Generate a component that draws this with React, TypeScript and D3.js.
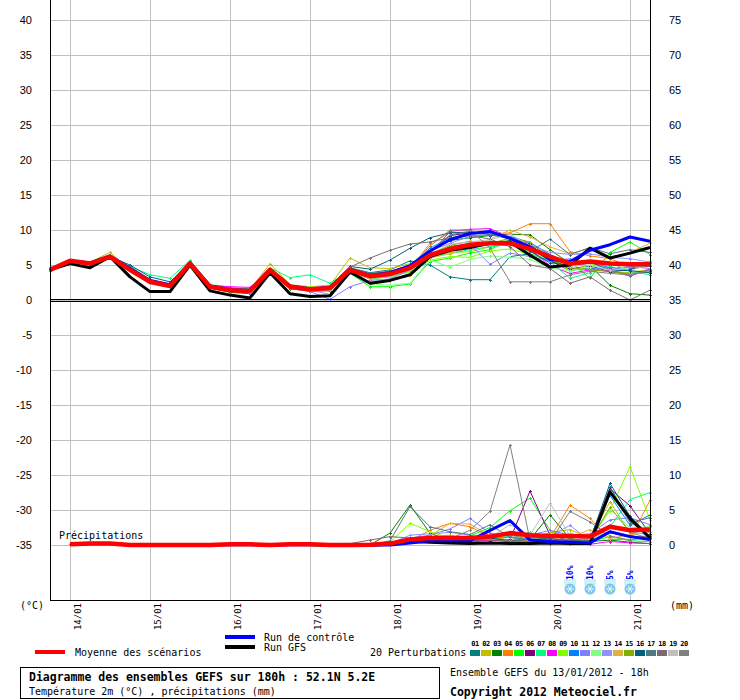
import * as d3 from "d3";

// forecast steps (hours after 13/01/2012 18h)
const HOURS = [0, 6, 12, 18, 24, 30, 36, 42, 48, 54, 60, 66, 72, 78, 84, 90, 96, 102, 108, 114, 120, 126, 132, 138, 144, 150, 156, 162, 168, 174, 180];
const DAY_HOURS = [6, 30, 54, 78, 102, 126, 150, 174];
const DAY_LABELS = ["14/01", "15/01", "16/01", "17/01", "18/01", "19/01", "20/01", "21/01"];
const TEMP_TICKS = [40, 35, 30, 25, 20, 15, 10, 5, 0, -5, -10, -15, -20, -25, -30, -35];
const PRECIP_TICKS = [75, 70, 65, 60, 55, 50, 45, 40, 35, 30, 25, 20, 15, 10, 5, 0];

const MEMBER_COLORS = ["#008080", "#c0c000", "#008000", "#ff8000", "#00ff00", "#800080", "#00ff80", "#ff00ff", "#80ff00", "#0080ff",
  "#8080ff", "#80ff80", "#9090ff", "#e0b040", "#80b000", "#006080", "#507880", "#806870", "#c0c0c0", "#808080"];

// 2m temperature, one value per step
const TEMP_MEAN = [4.3, 5.6, 5.2, 6.2, 4.3, 2.6, 2.0, 5.2, 1.9, 1.4, 1.3, 4.3, 1.9, 1.5, 1.7, 4.3, 3.4, 3.7, 4.6, 6.4, 7.3, 7.9, 8.1, 8.1, 7.3, 6.2, 5.2, 5.5, 5.2, 5.1, 5.1];
const TEMP_GFS = [4.3, 5.2, 4.6, 6.2, 3.3, 1.2, 1.2, 5.0, 1.3, 0.7, 0.3, 3.9, 0.9, 0.5, 0.6, 4.0, 2.4, 2.8, 3.6, 6.2, 7.1, 7.5, 8.1, 8.3, 6.4, 4.7, 5.0, 7.4, 6.0, 6.7, 7.5];
const TEMP_CTRL = [4.3, 5.6, 5.3, 6.3, 4.5, 2.8, 2.2, 5.3, 2.0, 1.5, 1.4, 4.4, 2.0, 1.6, 1.8, 4.4, 3.5, 3.9, 4.9, 7.0, 8.6, 9.5, 9.8, 8.8, 7.6, 5.8, 5.5, 7.1, 7.9, 9.0, 8.4];
const TEMP_MEMBERS = [
  [4.4, 5.6, 5.3, 6.0, 4.6, 2.9, 2.2, 5.0, 1.8, 1.3, 1.1, 4.0, 1.8, 1.6, 1.9, 4.6, 3.9, 4.3, 5.6, 5.0, 3.3, 2.9, 2.9, 6.2, 6.6, 5.6, 4.2, 4.6, 4.0, 3.8, 4.2],
  [4.2, 5.7, 5.4, 6.8, 4.4, 2.5, 1.9, 5.1, 2.1, 1.6, 1.5, 5.2, 2.2, 1.9, 2.1, 6.0, 4.6, 4.5, 5.2, 6.2, 6.8, 6.9, 7.6, 8.4, 8.0, 6.4, 4.6, 4.3, 4.1, 3.9, 4.4],
  [4.3, 5.5, 5.2, 6.2, 4.4, 2.7, 2.1, 5.1, 1.7, 1.1, 0.9, 4.2, 1.6, 1.3, 1.3, 4.5, 3.7, 4.1, 4.9, 6.9, 8.5, 8.9, 9.2, 9.4, 9.3, 7.2, 5.2, 4.9, 2.1, 0.9, 0.7],
  [4.4, 5.6, 5.1, 6.1, 4.2, 2.4, 1.9, 5.4, 2.0, 1.5, 1.3, 4.4, 1.9, 1.4, 1.6, 4.0, 3.2, 3.5, 4.4, 8.1, 9.6, 9.6, 9.4, 9.6, 10.9, 10.9, 6.9, 6.3, 5.9, 4.7, 5.3],
  [4.2, 5.5, 5.1, 6.3, 4.3, 2.6, 2.0, 5.6, 1.8, 1.3, 1.2, 4.1, 2.0, 1.6, 1.6, 3.8, 1.9, 1.9, 2.3, 5.5, 6.0, 6.7, 7.2, 8.6, 7.8, 5.4, 5.5, 3.1, 6.8, 8.3, 6.5],
  [4.3, 5.6, 5.2, 6.1, 4.2, 2.6, 2.0, 5.2, 1.9, 1.5, 1.4, 4.3, 1.8, 1.6, 1.8, 4.4, 3.6, 3.8, 4.9, 6.8, 9.2, 9.6, 9.5, 9.0, 8.0, 5.6, 4.4, 4.9, 4.0, 4.4, 4.9],
  [4.3, 5.6, 5.3, 6.4, 4.8, 3.6, 3.1, 5.7, 2.2, 1.8, 1.6, 4.6, 3.2, 3.6, 2.4, 4.2, 3.0, 3.3, 4.1, 6.3, 6.6, 7.2, 7.6, 7.9, 6.9, 5.5, 3.1, 3.9, 4.8, 4.1, 3.6],
  [4.3, 5.6, 5.2, 6.1, 4.3, 2.7, 2.1, 5.1, 2.1, 1.9, 1.8, 4.2, 1.9, 1.5, 1.8, 4.3, 3.5, 3.9, 4.8, 6.6, 9.8, 10.1, 10.2, 9.0, 7.3, 4.9, 3.8, 4.3, 4.2, 3.4, 4.4],
  [4.2, 5.5, 5.2, 6.2, 4.3, 2.7, 2.0, 5.3, 1.8, 1.2, 1.1, 4.5, 2.1, 1.8, 1.7, 4.2, 3.1, 3.3, 4.0, 5.7, 6.2, 6.1, 7.0, 7.3, 6.5, 5.9, 4.2, 5.0, 5.3, 4.8, 5.6],
  [4.3, 5.6, 5.2, 6.2, 4.4, 2.6, 1.9, 5.0, 1.9, 1.4, 1.3, 4.2, 1.8, 1.4, 1.7, 4.3, 3.6, 3.9, 4.8, 7.4, 8.9, 9.2, 9.3, 9.1, 8.2, 6.5, 5.0, 5.4, 4.6, 4.6, 4.9],
  [4.1, 5.4, 5.0, 6.0, 4.1, 2.4, 1.8, 4.8, 1.8, 1.3, 1.0, 4.0, 1.7, 1.2, 0.1, 1.9, 2.8, 3.0, 4.3, 6.1, 7.7, 8.0, 5.1, 6.7, 6.2, 5.6, 5.9, 4.6, 4.4, 4.8, 4.5],
  [4.3, 5.6, 5.2, 6.2, 4.3, 2.5, 2.0, 5.2, 2.0, 1.5, 1.4, 4.3, 2.0, 1.7, 1.5, 4.4, 2.3, 2.1, 2.4, 5.7, 4.7, 5.8, 6.3, 6.1, 5.8, 4.6, 4.2, 4.7, 5.3, 4.2, 5.1],
  [4.3, 5.6, 5.2, 6.2, 4.4, 2.6, 2.1, 5.2, 1.9, 1.4, 1.4, 4.3, 2.0, 1.4, 0.8, 3.8, 3.1, 3.5, 4.3, 7.0, 8.1, 9.1, 9.5, 9.0, 7.8, 6.8, 6.5, 6.6, 6.1, 5.9, 5.4],
  [4.3, 5.6, 5.2, 6.1, 4.3, 2.5, 2.0, 5.1, 2.0, 1.5, 1.4, 4.4, 2.0, 1.6, 1.9, 4.2, 3.0, 2.9, 3.6, 6.0, 6.6, 7.5, 8.7, 10.0, 9.0, 7.6, 6.6, 7.4, 6.0, 6.8, 8.1],
  [4.3, 5.6, 5.2, 6.3, 4.4, 2.6, 2.0, 5.3, 1.9, 1.4, 1.3, 4.4, 1.9, 1.5, 1.8, 4.6, 3.7, 3.9, 4.7, 6.6, 7.8, 8.4, 8.1, 8.8, 8.3, 5.8, 4.6, 4.3, 4.1, 3.7, 4.0],
  [4.4, 5.7, 5.4, 6.2, 5.0, 3.3, 2.6, 5.1, 1.7, 1.2, 1.1, 4.1, 2.1, 1.6, 2.0, 4.8, 4.4, 5.7, 7.4, 8.9, 9.6, 9.7, 9.4, 8.7, 7.0, 5.3, 5.2, 5.4, 4.3, 4.2, 3.9],
  [4.4, 5.6, 5.3, 6.2, 4.8, 2.9, 2.2, 5.0, 1.8, 1.3, 1.2, 4.2, 2.0, 1.7, 1.9, 4.5, 3.8, 4.1, 4.9, 6.9, 9.3, 9.8, 9.4, 8.8, 6.9, 8.7, 6.5, 7.5, 6.6, 7.2, 6.8],
  [4.3, 5.6, 5.2, 6.3, 4.5, 2.8, 2.2, 5.1, 1.9, 1.4, 1.3, 4.3, 2.0, 1.6, 1.7, 4.7, 6.0, 7.1, 8.0, 8.3, 8.9, 9.2, 8.7, 7.6, 5.0, 4.5, 2.4, 3.3, 1.4, 0.0, 1.4],
  [4.3, 5.6, 5.1, 6.1, 4.2, 2.3, 1.8, 5.0, 1.8, 1.3, 1.2, 4.2, 1.8, 1.3, 1.5, 4.1, 3.3, 3.5, 4.4, 6.5, 8.0, 8.3, 8.6, 9.4, 7.8, 6.0, 4.8, 5.0, 4.3, 5.4, 5.0],
  [4.3, 5.6, 5.2, 6.2, 4.4, 2.6, 2.0, 5.2, 1.9, 1.4, 1.3, 4.3, 1.9, 1.5, 1.7, 4.3, 3.5, 3.8, 4.7, 7.7, 10.0, 10.0, 7.4, 2.6, 2.6, 2.6, 3.6, 4.1, 3.8, 3.6, 4.3],
];

// 6h precipitation (mm), from step 6h onwards
const PRECIP_MEAN = [0.1, 0.2, 0.2, 0, 0, 0, 0, 0, 0.1, 0.1, 0, 0.1, 0.1, 0, 0, 0.05, 0.2, 0.8, 1.0, 1.0, 1.0, 1.2, 1.7, 1.4, 1.3, 1.3, 1.2, 2.6, 2.1, 2.2];
const PRECIP_GFS = [0.1, 0.2, 0.2, 0, 0, 0, 0, 0, 0.1, 0.1, 0, 0.1, 0.1, 0, 0, 0, 0.1, 0.5, 0.4, 0.3, 0.2, 0.3, 0.2, 0.2, 0.3, 0.2, 0.2, 7.6, 3.8, 1.0];
const PRECIP_CTRL = [0.1, 0.2, 0.2, 0, 0, 0, 0, 0, 0.05, 0.05, 0, 0.05, 0.05, 0, 0, 0, 0, 0.3, 0.6, 0.6, 0.6, 2.1, 3.5, 0.7, 0.5, 0.4, 0.3, 1.9, 1.2, 0.8];
const PRECIP_MEMBERS = [
  [0.1, 0.2, 0.2, 0, 0, 0, 0, 0, 0.1, 0.1, 0, 0.1, 0.1, 0, 0, 0, 0.2, 0.6, 1.0, 0.9, 0.8, 0.9, 1.1, 0.7, 0.5, 0.4, 0.3, 8.3, 3.4, 1.0],
  [0.1, 0.3, 0.2, 0, 0, 0, 0, 0, 0.1, 0.1, 0, 0.1, 0.1, 0, 0, 0, 0.3, 0.9, 1.2, 1.4, 0.9, 1.0, 0.6, 0.9, 1.8, 2.2, 1.0, 6.2, 1.7, 2.7],
  [0.1, 0.2, 0.1, 0, 0, 0, 0, 0, 0.1, 0.1, 0, 0.1, 0.1, 0, 0, 0, 1.7, 5.7, 1.7, 0.6, 0.6, 1.0, 0.4, 0.8, 4.3, 0.9, 0.5, 0.7, 0.4, 0.2],
  [0.1, 0.2, 0.2, 0, 0, 0, 0, 0, 0.1, 0.1, 0, 0.1, 0.1, 0, 0, 0, 0.2, 0.6, 2.1, 3.1, 2.6, 1.2, 0.5, 0.6, 1.0, 5.7, 3.8, 0.8, 0.8, 6.4],
  [0.1, 0.2, 0.2, 0, 0, 0, 0, 0, 0.1, 0.1, 0, 0.1, 0.1, 0, 0, 0, 0.1, 0.5, 0.9, 0.9, 1.3, 2.5, 4.9, 6.7, 2.1, 0.9, 0.5, 1.2, 0.6, 0.5],
  [0.1, 0.2, 0.2, 0, 0, 0, 0, 0, 0.1, 0.1, 0, 0.1, 0.1, 0, 0, 0, 0.1, 0.5, 0.7, 0.9, 0.6, 0.6, 0.8, 7.7, 1.4, 0.6, 0.9, 8.0, 5.6, 1.6],
  [0.1, 0.2, 0.2, 0, 0, 0, 0, 0, 0.1, 0.1, 0, 0.1, 0.1, 0, 0, 0, 0.1, 0.4, 0.8, 0.8, 0.9, 0.8, 1.3, 1.8, 0.6, 0.3, 0.5, 2.6, 6.5, 7.5],
  [0.1, 0.2, 0.2, 0, 0, 0, 0, 0, 0.1, 0.1, 0, 0.1, 0.1, 0, 0, 0, 0.1, 0.4, 0.6, 0.5, 0.4, 0.7, 0.5, 0.3, 0.2, 0.2, 0.1, 0.5, 0.3, 0.2],
  [0.1, 0.2, 0.2, 0, 0, 0, 0, 0, 0.1, 0.1, 0, 0.1, 0.1, 0, 0, 0, 0.4, 3.1, 1.9, 1.0, 0.7, 0.9, 0.6, 1.2, 0.8, 0.4, 1.0, 4.9, 11.2, 3.6],
  [0.1, 0.2, 0.2, 0, 0, 0, 0, 0, 0.1, 0.1, 0, 0.1, 0.1, 0, 0, 0, 0.1, 0.6, 1.0, 1.1, 0.9, 1.2, 1.5, 0.7, 1.0, 1.2, 0.9, 7.1, 2.8, 4.3],
  [0.1, 0.2, 0.2, 0, 0, 0, 0, 0, 0.1, 0.1, 0, 0.1, 0.1, 0, 0, 0, 0.3, 1.0, 1.4, 2.3, 3.8, 1.7, 1.3, 1.4, 2.1, 1.4, 1.6, 3.6, 3.9, 2.9],
  [0.1, 0.2, 0.2, 0, 0, 0, 0, 0, 0.1, 0.1, 0, 0.1, 0.1, 0, 0, 0, 0.1, 0.4, 0.7, 0.9, 1.0, 1.2, 1.9, 1.5, 0.9, 1.7, 0.8, 5.1, 2.5, 2.6],
  [0.1, 0.2, 0.2, 0, 0, 0, 0, 0, 0.1, 0.1, 0, 0.1, 0.1, 0, 0, 0, 0.2, 1.4, 1.6, 1.8, 1.4, 0.8, 0.7, 0.9, 1.3, 2.8, 0.6, 2.9, 1.9, 1.4],
  [0.1, 0.2, 0.2, 0, 0, 0, 0, 0, 0.1, 0.1, 0, 0.1, 0.1, 0, 0, 0, 0.2, 0.5, 1.3, 3.1, 3.0, 1.3, 0.6, 0.6, 0.9, 1.1, 2.2, 0.9, 1.5, 1.8],
  [0.1, 0.2, 0.2, 0, 0, 0, 0, 0, 0.1, 0.1, 0, 0.1, 0.1, 0, 0, 0, 0.2, 0.7, 0.9, 1.0, 0.8, 0.9, 1.1, 1.2, 0.7, 0.8, 0.6, 5.4, 1.8, 0.9],
  [0.1, 0.2, 0.2, 0, 0, 0, 0, 0, 0.1, 0.1, 0, 0.1, 0.1, 0, 0, 0, 0.2, 0.9, 1.2, 1.1, 0.9, 1.0, 0.6, 0.8, 0.9, 0.6, 0.7, 8.8, 4.1, 1.2],
  [0.1, 0.2, 0.2, 0, 0, 0, 0, 0, 0.1, 0.1, 0, 0.1, 0.1, 0, 0, 0, 0.6, 5.5, 2.6, 1.9, 1.5, 2.9, 1.1, 0.7, 0.6, 0.9, 0.5, 7.8, 3.2, 3.9],
  [0.1, 0.2, 0.2, 0, 0, 0, 0, 0, 0.1, 0.1, 0, 0.1, 0.1, 0, 0.2, 0.7, 1.2, 1.0, 0.8, 1.2, 0.8, 0.7, 0.6, 0.5, 0.4, 0.6, 0.5, 1.8, 1.1, 1.3],
  [0.1, 0.2, 0.2, 0, 0, 0, 0, 0, 0.1, 0.1, 0, 0.1, 0.1, 0, 0, 0, 0.1, 0.5, 0.8, 0.6, 1.0, 1.1, 2.9, 1.4, 6.0, 1.3, 0.8, 2.0, 1.3, 0.9],
  [0.1, 0.2, 0.2, 0, 0, 0, 0, 0, 0.1, 0.1, 0, 0.1, 0.1, 0, 0, 0, 0.1, 0.4, 0.8, 0.9, 2.1, 4.8, 14.3, 0.7, 0.5, 4.8, 3.3, 1.3, 0.7, 1.2],
];

// snow probability markers
const SNOW_HOURS = [156, 162, 168, 174];
const SNOW_LABELS = ["10%", "10%", "5%", "5%"];

const MONO = "'DejaVu Sans Mono', monospace";
const SANS = "'Liberation Sans', Arial, sans-serif";

const L = 50, R = 650, TOP = 0, BOT = 600;
const x = d3.scaleLinear().domain([0, 180]).range([L, R]);
const yT = d3.scaleLinear().domain([-35, 40]).range([545, 20]);
const yP = d3.scaleLinear().domain([0, 75]).range([545, 20]);

const tempLine = d3.line<number>().x((_, i) => x(HOURS[i])).y((d) => yT(d));
const precLine = d3.line<number>().x((_, i) => x(HOURS[i + 1])).y((d) => yP(d));

function Marks({ values, hours, y, color }: { values: number[]; hours: number[]; y: (v: number) => number; color: string }) {
  return (
    <g stroke={color} strokeWidth={1} shapeRendering="crispEdges">
      {values.map((v, i) => {
        const cx = Math.round(x(hours[i])) + 0.5, cy = Math.round(y(v)) + 0.5;
        return <path key={i} d={`M${cx - 1.5},${cy}H${cx + 1.5}M${cx},${cy - 1.5}V${cy + 1.5}`} />;
      })}
    </g>
  );
}

function Snowflake({ cx, cy }: { cx: number; cy: number }) {
  const arms = [0, 60, 120];
  return (
    <g>
      <rect x={cx - 6} y={cy - 10} width={12} height={6} fill="#ccf4f8" />
      <circle cx={cx} cy={cy} r={5.5} fill="#7cc6ea" />
      {arms.map((a) => {
        const r = (a * Math.PI) / 180;
        return <line key={a} x1={cx - Math.cos(r) * 4} y1={cy - Math.sin(r) * 4} x2={cx + Math.cos(r) * 4} y2={cy + Math.sin(r) * 4} stroke="#e8f8ff" strokeWidth={1} />;
      })}
    </g>
  );
}

export default function App() {
  const precHours = HOURS.slice(1);
  return (
    <svg width={740} height={700} style={{ position: "absolute", left: 0, top: 0, background: "#fff" }} fontFamily={MONO}>
      <rect width={740} height={700} fill="#fff" />
      {/* grid */}
      <g stroke="#c0c0c0" strokeWidth={1} shapeRendering="crispEdges">
        {TEMP_TICKS.map((t) => (
          <line key={t} x1={L} x2={R} y1={Math.round(yT(t)) + 0.5} y2={Math.round(yT(t)) + 0.5} />
        ))}
        {DAY_HOURS.map((h) => (
          <line key={h} x1={Math.round(x(h)) + 0.5} x2={Math.round(x(h)) + 0.5} y1={TOP} y2={BOT} />
        ))}
      </g>
      {/* axis labels */}
      <g fontFamily={SANS} fontSize={11} fill="#000">
        {TEMP_TICKS.map((t) => (
          <text key={t} x={32} y={yT(t) + 4} textAnchor="end">{t}</text>
        ))}
        {PRECIP_TICKS.map((t) => (
          <text key={t} x={669} y={yP(t) + 4}>{t}</text>
        ))}
      </g>
      {/* temperature */}
      <g fill="none" strokeLinejoin="round">
        {TEMP_MEMBERS.map((m, k) => (
          <path key={k} d={tempLine(m)!} stroke={MEMBER_COLORS[k]} strokeWidth={1} />
        ))}
      </g>
      {TEMP_MEMBERS.map((m, k) => (
        <Marks key={k} values={m} hours={HOURS} y={yT} color={MEMBER_COLORS[k]} />
      ))}
      <path d={tempLine(TEMP_GFS)!} fill="none" stroke="#000" strokeWidth={3} strokeLinejoin="round" />
      <path d={tempLine(TEMP_CTRL)!} fill="none" stroke="#0000ff" strokeWidth={3} strokeLinejoin="round" />
      <path d={tempLine(TEMP_MEAN)!} fill="none" stroke="#ff0000" strokeWidth={4.5} strokeLinejoin="round" />
      {/* precipitation */}
      <g fill="none" strokeLinejoin="round">
        {PRECIP_MEMBERS.map((m, k) => (
          <path key={k} d={precLine(m)!} stroke={MEMBER_COLORS[k]} strokeWidth={1} />
        ))}
      </g>
      {PRECIP_MEMBERS.map((m, k) => (
        <Marks key={k} values={m} hours={precHours} y={yP} color={MEMBER_COLORS[k]} />
      ))}
      <path d={precLine(PRECIP_GFS)!} fill="none" stroke="#000" strokeWidth={3} strokeLinejoin="round" />
      <path d={precLine(PRECIP_CTRL)!} fill="none" stroke="#0000ff" strokeWidth={3} strokeLinejoin="round" />
      <path d={precLine(PRECIP_MEAN)!} fill="none" stroke="#ff0000" strokeWidth={4.5} strokeLinejoin="round" />
      <text x={59} y={539} fontSize={10}>Précipitations</text>
      {/* frame and zero line */}
      <g stroke="#000" strokeWidth={1} shapeRendering="crispEdges" fill="none">
        <line x1={L + 0.5} x2={L + 0.5} y1={TOP} y2={BOT} />
        <line x1={R + 0.5} x2={R + 0.5} y1={TOP} y2={BOT} />
        <line x1={L} x2={R + 1} y1={BOT + 0.5} y2={BOT + 0.5} />
        <line x1={L} x2={R} y1={yT(0) - 0.5} y2={yT(0) - 0.5} />
        <line x1={L} x2={R} y1={yT(0) + 1.5} y2={yT(0) + 1.5} />
      </g>
      {/* snow probabilities */}
      {SNOW_HOURS.map((h, i) => (
        <g key={h}>
          <text transform={`translate(${x(h) + 3},580) rotate(-90)`} fontSize={8} fontWeight="bold" fill="#0000ff">{SNOW_LABELS[i]}</text>
          <Snowflake cx={x(h)} cy={589} />
        </g>
      ))}
      {/* day labels */}
      {DAY_HOURS.map((h, i) => (
        <text key={h} transform={`translate(${x(h) + 11},603) rotate(-90)`} textAnchor="end" fontSize={9}>{DAY_LABELS[i]}</text>
      ))}
      <text x={20} y={609} fontSize={10}>(°C)</text>
      <text x={670} y={609} fontSize={10}>(mm)</text>
      {/* legend */}
      <rect x={35} y={650} width={30} height={4} fill="#ff0000" />
      <text x={75} y={655.5} fontSize={10}>Moyenne des scénarios</text>
      <rect x={225} y={635} width={30} height={4} fill="#0000ff" />
      <text x={264} y={640.5} fontSize={10}>Run de contrôle</text>
      <rect x={225} y={645} width={30} height={4} fill="#000" />
      <text x={264} y={650.5} fontSize={10}>Run GFS</text>
      <text x={370} y={655.5} fontSize={10}>20 Perturbations</text>
      {MEMBER_COLORS.map((c, k) => (
        <g key={c + k}>
          <rect x={470 + k * 11} y={650} width={10} height={6} fill={c} />
          <text x={475 + k * 11} y={646} fontSize={7} fontWeight="bold" textAnchor="middle" letterSpacing={-0.5}>{String(k + 1).padStart(2, "0")}</text>
        </g>
      ))}
      {/* title box */}
      <rect x={20.5} y={667.5} width={419} height={31} fill="none" stroke="#000" strokeWidth={1} shapeRendering="crispEdges" />
      <text x={29} y={681} fontSize={11.5} fontWeight="bold">Diagramme des ensembles GEFS sur 180h : 52.1N 5.2E</text>
      <text x={29} y={695} fontSize={10}>Température 2m (°C) , précipitations (mm)</text>
      <text x={450} y={676} fontSize={10}>Ensemble GEFS du 13/01/2012 - 18h</text>
      <text x={450} y={696} fontSize={11.5} fontWeight="bold">Copyright 2012 Meteociel.fr</text>
    </svg>
  );
}
